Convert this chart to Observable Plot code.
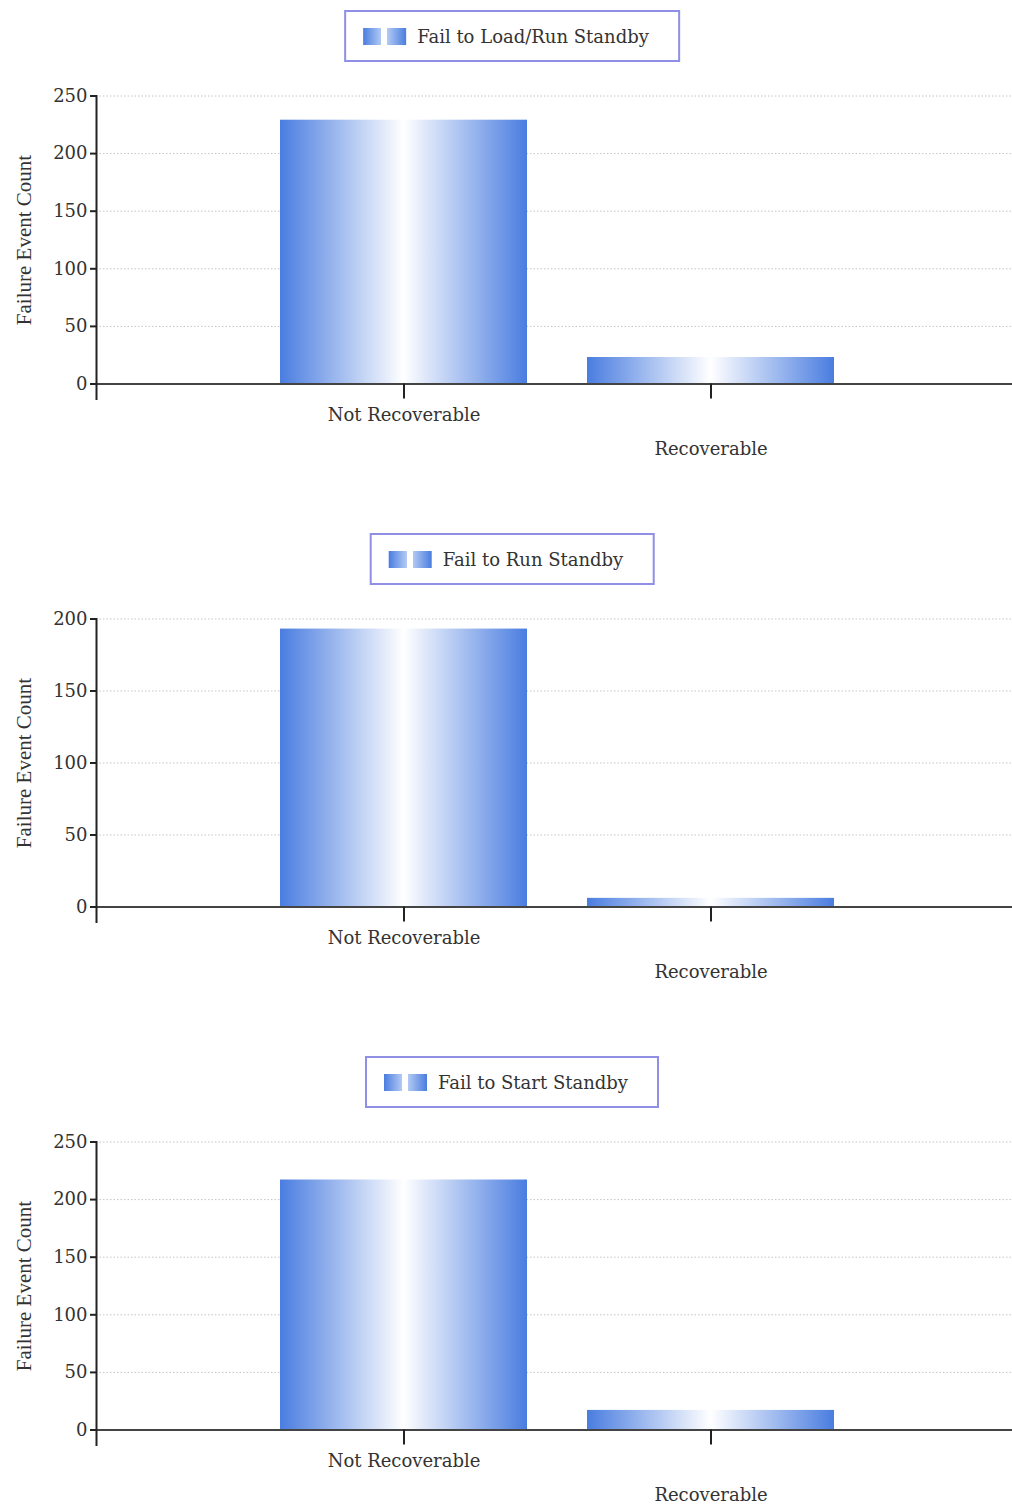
<!DOCTYPE html>
<html>
<head>
<meta charset="utf-8">
<script src="https://cdn.jsdelivr.net/npm/d3@7"></script>
<script src="https://cdn.jsdelivr.net/npm/@observablehq/plot@0.6"></script>
<style>
  html, body { margin: 0; padding: 0; background: #fff; }
  body { width: 1012px; height: 1509px; overflow: hidden; font-family: "DejaVu Serif", serif; color: #333; }
  .panel { position: relative; width: 1012px; height: 523px; }
  .panel svg { position: absolute; left: 0; top: 0; }
  .legend {
    position: absolute; top: 10px; left: 512px; transform: translateX(-50%);
    height: 48px; border: 2px solid #8f8fe6; background: #fff;
    display: flex; align-items: center; padding: 0 29px 0 17px;
    white-space: nowrap; font-size: 18px; color: #333;
  }
  .swatch {
    width: 43px; height: 17px; margin-right: 11px;
    background: linear-gradient(to right, #4a7de0 0%, #b3caf3 42%, #fff 42%, #fff 56%, #b3caf3 56%, #4a7de0 100%);
  }
</style>
</head>
<body>
<div id="charts"></div>
<script>
// Failure categories on the x axis
const categories = ["Not Recoverable", "Recoverable"];

// Event counts per failure mode
const seriesNames = ["Fail to Load/Run Standby", "Fail to Run Standby", "Fail to Start Standby"];
const loadRunCounts = [229, 23];
const runCounts = [193, 6];
const startCounts = [217, 17];

// y-axis ticks and label
const ticks250 = [0, 50, 100, 150, 200, 250];
const ticks200 = [0, 50, 100, 150, 200];
const yLabel = "Failure Event Count";

const panels = [
  {name: seriesNames[0], counts: loadRunCounts, ticks: ticks250},
  {name: seriesNames[1], counts: runCounts, ticks: ticks200},
  {name: seriesNames[2], counts: startCounts, ticks: ticks250}
];

const root = document.getElementById("charts");

panels.forEach((p, i) => {
  const data = categories.map((c, k) => ({category: c, count: p.counts[k]}));
  const gid = `bar-gradient-${i}`;
  const yMax = p.ticks[p.ticks.length - 1];

  const svg = Plot.plot({
    width: 1012,
    height: 523,
    marginTop: 95.5,
    marginBottom: 139.5,
    marginLeft: 96,
    marginRight: 0,
    style: {fontFamily: "'DejaVu Serif', serif", fontSize: "18px", color: "#333", background: "transparent", overflow: "visible"},
    x: {domain: categories, range: [279, 834], paddingInner: 0.196, paddingOuter: 0},
    y: {domain: [0, yMax]},
    marks: [
      Plot.gridY(p.ticks, {stroke: "#c4c4c4", strokeOpacity: 1, strokeDasharray: "1.5,2"}),
      Plot.barY(data, {x: "category", y: "count", fill: `url(#${gid})`}),
      Plot.ruleY([0], {stroke: "#444", strokeWidth: 2}),
      Plot.frame({anchor: "left", stroke: "#222", strokeWidth: 2, insetBottom: -15}),
      Plot.axisY(p.ticks, {anchor: "left", tickSize: 6, tickPadding: 3, stroke: "#222", strokeWidth: 2, label: null, tickFormat: d => String(d)}),
      Plot.axisX([categories[0]], {anchor: "bottom", tickSize: 15, tickPadding: 9, stroke: "#222", strokeWidth: 2, label: null}),
      Plot.axisX([categories[1]], {anchor: "bottom", tickSize: 15, tickPadding: 43, stroke: "#222", strokeWidth: 2, label: null}),
      Plot.text([yLabel], {frameAnchor: "left", textAnchor: "middle", lineAnchor: "middle", rotate: -90, dx: -72, fontFamily: "'Liberation Serif', serif", fontSize: 21, fill: "#333"})
    ]
  });

  // horizontal blue-white-blue shading for the bars
  const defs = d3.select(svg).insert("defs", ":first-child");
  const grad = defs.append("linearGradient")
    .attr("id", gid).attr("x1", "0").attr("x2", "1").attr("y1", "0").attr("y2", "0");
  [[0, "#4a7de0"], [0.5, "#ffffff"], [1, "#4a7de0"]].forEach(([o, c]) =>
    grad.append("stop").attr("offset", o).attr("stop-color", c));

  const div = document.createElement("div");
  div.className = "panel";
  div.appendChild(svg);

  const legend = document.createElement("div");
  legend.className = "legend";
  const sw = document.createElement("span");
  sw.className = "swatch";
  const label = document.createElement("span");
  label.textContent = p.name;
  legend.appendChild(sw);
  legend.appendChild(label);
  div.appendChild(legend);

  root.appendChild(div);
});
</script>
</body>
</html>
